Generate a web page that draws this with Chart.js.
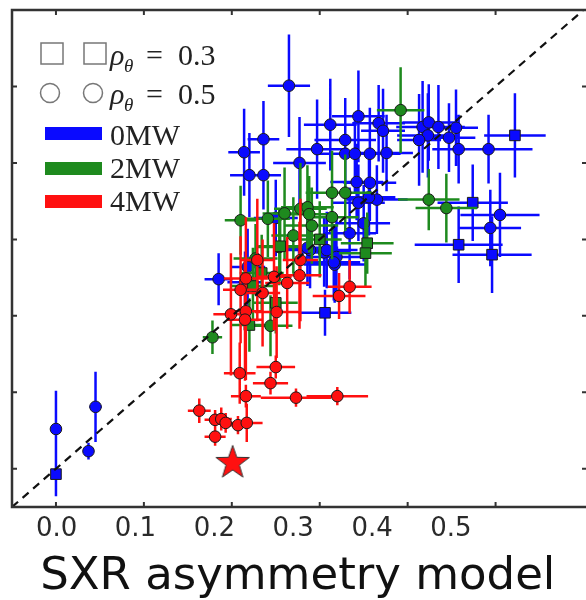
<!DOCTYPE html>
<html>
<head>
<meta charset="utf-8">
<script src="https://cdn.jsdelivr.net/npm/chart.js@4.4.0/dist/chart.umd.min.js"></script>
<style>
html, body { margin: 0; padding: 0; background: #fff; overflow: hidden; }
#wrap { width: 586px; height: 600px; overflow: hidden; }
</style>
</head>
<body>
<div id="wrap"><canvas id="chart" width="592" height="600"></canvas></div>
<script>
// axis ticks
const xTicks = [0.0, 0.1, 0.2, 0.3, 0.4, 0.5];
const yTicks = [0.0, 0.1, 0.2, 0.3, 0.4, 0.5];
const xTickLabels = ['0.0', '0.1', '0.2', '0.3', '0.4', '0.5'];
const axisMin = -0.05;
const axisMax = 0.6;
// the printed labels sit on a slightly narrower scale than the tick marks
const labelMin = -0.0565;
const labelMax = 0.668;

// 0MW
const blueX = [0.000, 0.000, 0.037, 0.045, 0.185, 0.265, 0.214, 0.236, 0.220, 0.236,
  0.277, 0.312, 0.344, 0.329, 0.297, 0.329, 0.340, 0.357, 0.376, 0.367,
  0.372, 0.417, 0.424, 0.423, 0.413, 0.435, 0.447, 0.455, 0.458, 0.492,
  0.522, 0.342, 0.357, 0.344, 0.365, 0.474, 0.505, 0.494, 0.458, 0.496,
  0.350, 0.334, 0.305, 0.319, 0.289, 0.317, 0.250, 0.218, 0.306, 0.286,
  0.308, 0.316, 0.356, 0.215];
const blueY = [0.052, -0.007, 0.023, 0.081, 0.248, 0.501, 0.414, 0.431, 0.384, 0.384,
  0.400, 0.450, 0.461, 0.430, 0.418, 0.412, 0.412, 0.412, 0.413, 0.452,
  0.442, 0.447, 0.453, 0.436, 0.430, 0.447, 0.433, 0.446, 0.418, 0.418,
  0.436, 0.375, 0.374, 0.348, 0.352, 0.348, 0.332, 0.315, 0.293, 0.280,
  0.321, 0.308, 0.283, 0.277, 0.286, 0.267, 0.328, 0.264, 0.204, 0.289,
  0.286, 0.270, 0.355, 0.244];
const blueXErr = [0.004, 0.004, 0.006, 0.007, 0.016, 0.024, 0.018, 0.018, 0.022, 0.020,
  0.030, 0.030, 0.030, 0.035, 0.035, 0.030, 0.030, 0.035, 0.030, 0.030,
  0.025, 0.030, 0.030, 0.035, 0.025, 0.030, 0.030, 0.025, 0.030, 0.050,
  0.035, 0.030, 0.030, 0.030, 0.035, 0.040, 0.045, 0.035, 0.050, 0.045,
  0.030, 0.030, 0.030, 0.035, 0.030, 0.035, 0.025, 0.020, 0.030, 0.035,
  0.035, 0.030, 0.030, 0.020];
const blueYErr = [0.050, 0.029, 0.011, 0.046, 0.034, 0.067, 0.057, 0.050, 0.055, 0.045,
  0.060, 0.060, 0.060, 0.055, 0.065, 0.050, 0.050, 0.060, 0.050, 0.050,
  0.055, 0.060, 0.050, 0.055, 0.060, 0.055, 0.045, 0.050, 0.045, 0.045,
  0.055, 0.050, 0.050, 0.050, 0.045, 0.050, 0.055, 0.050, 0.050, 0.050,
  0.050, 0.060, 0.045, 0.050, 0.050, 0.050, 0.050, 0.050, 0.030, 0.050,
  0.050, 0.050, 0.050, 0.040];
const blueSquares = [1, 30, 35, 38, 39, 48];

// 2MW
const greenX = [0.392, 0.314, 0.329, 0.424, 0.444, 0.260, 0.278, 0.286, 0.288, 0.314,
  0.291, 0.241, 0.210, 0.254, 0.354, 0.352, 0.234, 0.224, 0.250, 0.244,
  0.178, 0.220, 0.255, 0.227, 0.270, 0.300];
const greenY = [0.469, 0.361, 0.361, 0.352, 0.341, 0.334, 0.340, 0.342, 0.333, 0.329,
  0.318, 0.327, 0.325, 0.290, 0.295, 0.282, 0.256, 0.239, 0.217, 0.187,
  0.172, 0.188, 0.291, 0.275, 0.305, 0.300];
const greenXErr = [0.027, 0.030, 0.030, 0.035, 0.035, 0.025, 0.030, 0.030, 0.030, 0.030,
  0.030, 0.025, 0.018, 0.025, 0.030, 0.030, 0.025, 0.025, 0.025, 0.025,
  0.011, 0.020, 0.025, 0.025, 0.025, 0.025];
const greenYErr = [0.056, 0.055, 0.050, 0.040, 0.045, 0.060, 0.060, 0.055, 0.050, 0.055,
  0.050, 0.050, 0.045, 0.050, 0.040, 0.045, 0.050, 0.050, 0.040, 0.040,
  0.022, 0.035, 0.045, 0.045, 0.050, 0.050];
const greenSquares = [14, 15, 16, 17, 18, 21, 22, 25];

// 4MW
const redX = [0.229, 0.248, 0.263, 0.277, 0.278, 0.210, 0.216, 0.235, 0.322, 0.334,
  0.199, 0.216, 0.251, 0.215, 0.250, 0.209, 0.244, 0.216, 0.273, 0.320,
  0.163, 0.181, 0.188, 0.193, 0.207, 0.217, 0.181];
const redY = [0.273, 0.251, 0.243, 0.253, 0.273, 0.234, 0.249, 0.230, 0.226, 0.238,
  0.202, 0.206, 0.205, 0.195, 0.133, 0.125, 0.112, 0.095, 0.093, 0.095,
  0.076, 0.064, 0.065, 0.060, 0.057, 0.060, 0.042];
const redXErr = [0.020, 0.020, 0.025, 0.025, 0.020, 0.020, 0.025, 0.020, 0.030, 0.025,
  0.020, 0.020, 0.025, 0.020, 0.022, 0.018, 0.020, 0.017, 0.040, 0.035,
  0.013, 0.012, 0.012, 0.012, 0.012, 0.018, 0.012];
const redYErr = [0.080, 0.070, 0.060, 0.070, 0.080, 0.070, 0.080, 0.070, 0.030, 0.035,
  0.080, 0.090, 0.060, 0.080, 0.015, 0.040, 0.015, 0.015, 0.012, 0.012,
  0.016, 0.013, 0.015, 0.013, 0.012, 0.025, 0.012];

// star marker
const starX = [0.201];
const starY = [0.009];

const blue = '#0a0aff';
const green = '#1e8a1e';
const red = '#ff1010';

function pts(xs, ys) {
  return xs.map((v, i) => ({ x: v, y: ys[i] }));
}

function series(label, xs, ys, ex, ey, squares, color, order) {
  const isSq = xs.map((v, i) => squares.includes(i));
  return {
    label,
    data: pts(xs, ys),
    errX: ex,
    errY: ey,
    barColor: color,
    backgroundColor: color,
    borderColor: '#1a1a1a',
    borderWidth: 1,
    pointStyle: isSq.map(s => s ? 'rect' : 'circle'),
    pointRadius: isSq.map(s => s ? 7.5 : 5.8),
    order
  };
}

// filled star image for the pointStyle
const starImg = document.createElement('canvas');
starImg.width = 38;
starImg.height = 38;
(function () {
  const c = starImg.getContext('2d');
  c.beginPath();
  for (let i = 0; i < 10; i++) {
    const r = i % 2 === 0 ? 17.5 : 7;
    const a = -Math.PI / 2 + i * Math.PI / 5;
    c.lineTo(19 + r * Math.cos(a), 20 + r * Math.sin(a));
  }
  c.closePath();
  c.fillStyle = red;
  c.fill();
  c.strokeStyle = '#333';
  c.lineWidth = 1;
  c.stroke();
})();

const errorBars = {
  id: 'errorBars',
  beforeDatasetDraw(chart, args) {
    const ds = chart.data.datasets[args.index];
    if (!ds.errX) return;
    const { ctx, chartArea: a, scales: { x, y } } = chart;
    ctx.save();
    ctx.beginPath();
    ctx.rect(a.left, a.top, a.right - a.left, a.bottom - a.top);
    ctx.clip();
    ctx.strokeStyle = ds.barColor;
    ctx.lineWidth = 2.5;
    ctx.beginPath();
    ds.data.forEach((p, i) => {
      const px = x.getPixelForValue(p.x);
      const py = y.getPixelForValue(p.y);
      ctx.moveTo(x.getPixelForValue(p.x - ds.errX[i]), py);
      ctx.lineTo(x.getPixelForValue(p.x + ds.errX[i]), py);
      ctx.moveTo(px, y.getPixelForValue(p.y - ds.errY[i]));
      ctx.lineTo(px, y.getPixelForValue(p.y + ds.errY[i]));
    });
    ctx.stroke();
    ctx.restore();
  }
};

const frame = {
  id: 'frame',
  afterDraw(chart) {
    const { ctx, chartArea: a, scales: { x, y } } = chart;
    ctx.save();
    ctx.strokeStyle = '#333';
    ctx.lineWidth = 2.5;
    // left, top and bottom spines; the right one lies outside the crop
    ctx.beginPath();
    ctx.moveTo(chart.width, a.top);
    ctx.lineTo(a.left, a.top);
    ctx.lineTo(a.left, a.bottom);
    ctx.lineTo(chart.width, a.bottom);
    ctx.stroke();
    // inward ticks
    ctx.lineWidth = 2;
    ctx.beginPath();
    xTicks.forEach(v => {
      const px = x.getPixelForValue(v);
      ctx.moveTo(px, a.bottom); ctx.lineTo(px, a.bottom - 5);
      ctx.moveTo(px, a.top); ctx.lineTo(px, a.top + 5);
    });
    yTicks.forEach(v => {
      const py = y.getPixelForValue(v);
      ctx.moveTo(a.left, py); ctx.lineTo(a.left + 5, py);
      ctx.moveTo(586, py); ctx.lineTo(582, py);
    });
    ctx.stroke();

    // legend
    ctx.strokeStyle = '#777';
    ctx.lineWidth = 1.5;
    ctx.strokeRect(41, 43, 22, 21);
    ctx.strokeRect(84, 43, 22, 21);
    ctx.beginPath(); ctx.arc(50, 93, 9.5, 0, Math.PI * 2); ctx.stroke();
    ctx.beginPath(); ctx.arc(93, 93, 9.5, 0, Math.PI * 2); ctx.stroke();
    ctx.fillStyle = '#222';
    ctx.textBaseline = 'alphabetic';
    [[65, '0.3'], [104, '0.5']].forEach(([b, t]) => {
      ctx.font = 'italic 30px "Liberation Serif"';
      ctx.fillText('ρ', 110, b);
      ctx.font = 'italic 19px "Liberation Serif"';
      ctx.fillText('θ', 124, b + 7);
      ctx.font = '30px "Liberation Serif"';
      ctx.fillText('=', 146, b);
      ctx.fillText(t, 178, b);
    });
    [[blue, 127, '0MW', 145], [green, 162, '2MW', 178], [red, 195, '4MW', 211]].forEach(([c, top, t, b]) => {
      ctx.fillStyle = c;
      ctx.fillRect(45, top, 57, 13);
      ctx.fillStyle = '#222';
      ctx.font = '30px "Liberation Serif"';
      ctx.fillText(t, 110, b);
    });
    ctx.restore();
  }
};

new Chart(document.getElementById('chart'), {
  type: 'scatter',
  data: {
    datasets: [
      {
        type: 'line',
        data: pts([axisMin, axisMax], [axisMin, axisMax]),
        borderColor: '#111',
        borderWidth: 2.2,
        borderDash: [8, 6],
        pointRadius: 0,
        order: 0
      },
      {
        data: pts(starX, starY),
        pointStyle: starImg,
        order: 1
      },
      series('4MW', redX, redY, redXErr, redYErr, [], red, 2),
      series('2MW', greenX, greenY, greenXErr, greenYErr, greenSquares, green, 3),
      series('0MW', blueX, blueY, blueXErr, blueYErr, blueSquares, blue, 4)
    ]
  },
  options: {
    responsive: false,
    animation: false,
    layout: { padding: { left: 12, top: 10, right: 3, bottom: 0 } },
    plugins: { legend: { display: false }, tooltip: { enabled: false } },
    scales: {
      x: {
        type: 'linear',
        display: false,
        min: axisMin,
        max: axisMax
      },
      xl: {
        type: 'linear',
        position: 'bottom',
        min: labelMin,
        max: labelMax,
        grid: { display: false },
        border: { display: false },
        afterBuildTicks: scale => { scale.ticks = xTicks.map(v => ({ value: v })); },
        afterFit: scale => { scale.height = 93; },
        ticks: {
          padding: 1,
          color: '#2a2a2a',
          font: { family: 'DejaVu Sans', size: 26, lineHeight: 1 },
          callback: (v, i) => xTickLabels[i]
        },
        title: {
          display: true,
          text: 'SXR asymmetry model',
          color: '#111',
          padding: { top: 0, bottom: 0 },
          font: { family: 'DejaVu Sans', size: 45, lineHeight: 1 }
        }
      },
      y: {
        type: 'linear',
        display: false,
        min: axisMin,
        max: axisMax
      }
    }
  },
  plugins: [errorBars, frame]
});
</script>
</body>
</html>
